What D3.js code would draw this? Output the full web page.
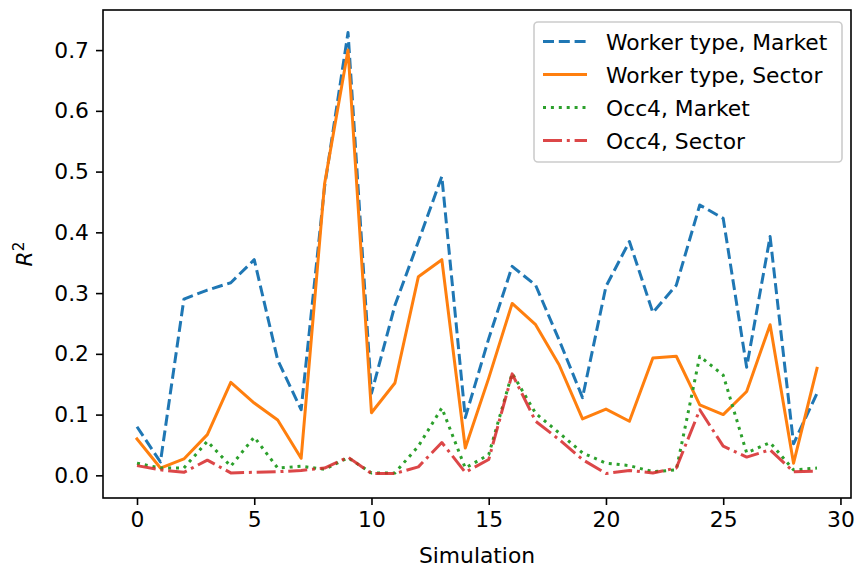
<!DOCTYPE html>
<html>
<head>
<meta charset="utf-8">
<script src="https://cdn.jsdelivr.net/npm/d3@7"></script>
<style>
body{margin:0;background:#fff;}
text{font-family:"DejaVu Sans",sans-serif;fill:#000;}
</style>
</head>
<body>
<div id="chart_R2"></div>
<script>

var simulation = d3.range(0, 30);

var workerMarket = [0.080, 0.022, 0.290, 0.305, 0.317, 0.355, 0.190, 0.108, 0.475, 0.729, 0.135, 0.280, 0.385, 0.492, 0.095, 0.225, 0.344, 0.313, 0.223, 0.128, 0.311, 0.385, 0.268, 0.313, 0.445, 0.423, 0.178, 0.393, 0.052, 0.135];
var workerSector = [0.060, 0.012, 0.027, 0.067, 0.153, 0.119, 0.091, 0.028, 0.480, 0.700, 0.103, 0.152, 0.327, 0.355, 0.045, 0.160, 0.283, 0.248, 0.182, 0.093, 0.109, 0.089, 0.193, 0.196, 0.116, 0.100, 0.138, 0.248, 0.020, 0.176];
var occMarket = [0.020, 0.012, 0.012, 0.056, 0.015, 0.063, 0.012, 0.015, 0.010, 0.029, 0.004, 0.004, 0.048, 0.111, 0.012, 0.034, 0.168, 0.102, 0.070, 0.037, 0.020, 0.016, 0.006, 0.009, 0.196, 0.165, 0.037, 0.054, 0.009, 0.012];
var occSector = [0.016, 0.009, 0.005, 0.025, 0.004, 0.005, 0.006, 0.008, 0.012, 0.030, 0.003, 0.003, 0.014, 0.054, 0.005, 0.026, 0.167, 0.089, 0.059, 0.026, 0.003, 0.008, 0.004, 0.012, 0.108, 0.048, 0.030, 0.042, 0.006, 0.007];

var seriesNames = ["Worker type, Market", "Worker type, Sector", "Occ4, Market", "Occ4, Sector"];
var xTicks = [0, 5, 10, 15, 20, 25, 30];
var yTicks = [0.0, 0.1, 0.2, 0.3, 0.4, 0.5, 0.6, 0.7];

var overallwidth = 857, overallheight = 571;
var plotLeft = 103, plotRight = 851, plotTop = 10, plotBottom = 498;
var fontSize = 21.8;

var series = [
	{name: seriesNames[0], values: workerMarket, color: "#1f77b4", dash: "11,4.8", cap: "butt", opacity: 1},
	{name: seriesNames[1], values: workerSector, color: "#ff7f0e", dash: null, cap: "square", opacity: 1},
	{name: seriesNames[2], values: occMarket, color: "#2ca02c", dash: "3,4.9", cap: "butt", opacity: 1},
	{name: seriesNames[3], values: occSector, color: "#d62728", dash: "19,4.8,3,4.8", cap: "butt", opacity: 0.85}
];

var xScale = d3.scaleLinear().domain([-1.45, 30.45]).range([plotLeft, plotRight]);
var yScale = d3.scaleLinear().domain([-0.0373, 0.766]).range([plotBottom, plotTop]);

var svg = d3.select("#chart_R2")
	.append("svg")
	.attr("width", overallwidth)
	.attr("height", overallheight);

var line = d3.line()
	.x(function(d, i){ return xScale(simulation[i]); })
	.y(function(d){ return yScale(d); });

var plot = svg.append("g").attr("class", "lines");

series.forEach(function(s){
	plot.append("path")
		.datum(s.values)
		.attr("d", line)
		.attr("fill", "none")
		.attr("stroke", s.color)
		.attr("stroke-width", 3)
		.attr("stroke-dasharray", s.dash)
		.attr("stroke-linecap", s.cap)
		.attr("stroke-linejoin", "round")
		.attr("stroke-opacity", s.opacity);
});

// axes
var xAxis = d3.axisBottom(xScale).tickValues(xTicks).tickSize(7).tickPadding(7).tickFormat(d3.format("d"));
var yAxis = d3.axisLeft(yScale).tickValues(yTicks).tickSize(7).tickPadding(7).tickFormat(d3.format(".1f"));

var gx = svg.append("g").attr("transform", "translate(0," + plotBottom + ")").call(xAxis);
var gy = svg.append("g").attr("transform", "translate(" + plotLeft + ",0)").call(yAxis);

[gx, gy].forEach(function(g){
	g.select(".domain").remove();
	g.selectAll(".tick line").attr("stroke", "#000").attr("stroke-width", 1.6);
	g.selectAll(".tick text").attr("font-size", fontSize).attr("font-family", "DejaVu Sans").attr("fill", "#000");
});

svg.append("rect")
	.attr("x", plotLeft).attr("y", plotTop)
	.attr("width", plotRight - plotLeft).attr("height", plotBottom - plotTop)
	.attr("fill", "none")
	.attr("stroke", "#000")
	.attr("stroke-width", 1.6);

svg.append("text")
	.attr("x", (plotLeft + plotRight) / 2)
	.attr("y", 563)
	.attr("text-anchor", "middle")
	.attr("font-size", fontSize)
	.text("Simulation");

var yLab = svg.append("text")
	.attr("transform", "translate(32," + ((plotTop + plotBottom) / 2) + ") rotate(-90)")
	.attr("text-anchor", "middle")
	.attr("font-size", fontSize);
yLab.append("tspan").attr("font-style", "italic").text("R");
yLab.append("tspan").attr("font-size", fontSize * 0.7).attr("dy", -8).text("2");

// legend
var legend = svg.append("g").attr("class", "legend");
legend.append("rect")
	.attr("x", 534).attr("y", 22)
	.attr("width", 308).attr("height", 140)
	.attr("rx", 4)
	.attr("fill", "#fff").attr("fill-opacity", 0.8)
	.attr("stroke", "#ccc").attr("stroke-width", 1.6);

var legendRow = legend.selectAll(".legendRow")
	.data(series)
	.enter()
	.append("g")
	.attr("class", "legendRow")
	.attr("transform", function(d, i){ return "translate(0," + (41.5 + i * 33) + ")"; });

legendRow.append("line")
	.attr("x1", 543).attr("x2", 587)
	.attr("y1", 0).attr("y2", 0)
	.attr("stroke", function(d){ return d.color; })
	.attr("stroke-width", 3)
	.attr("stroke-dasharray", function(d){ return d.dash; })
	.attr("stroke-opacity", function(d){ return d.opacity; });

legendRow.append("text")
	.attr("x", 606)
	.attr("y", 8)
	.attr("font-size", fontSize)
	.text(function(d){ return d.name; });

</script>
</body>
</html>
